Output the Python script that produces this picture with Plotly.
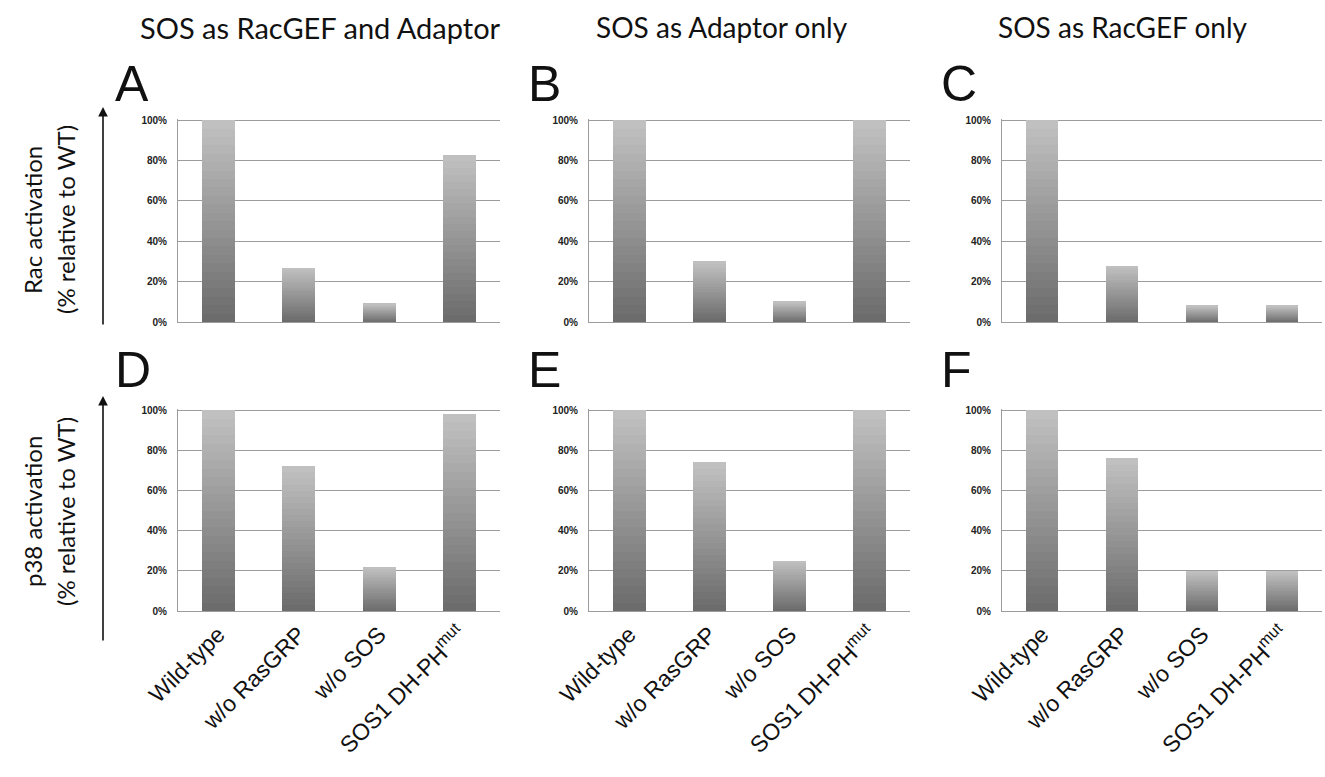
import plotly.graph_objects as go

W, H = 1325, 777

categories = ["Wild-type", "w/o RasGRP", "w/o SOS", "SOS1 DH-PH<sup>mut</sup>"]
rac_both = [100, 27, 9, 83]
rac_adaptor = [100, 30, 10, 100]
rac_gef = [100, 28, 8, 8]
p38_both = [100, 72, 22, 98]
p38_adaptor = [100, 74, 25, 100]
p38_gef = [100, 76, 20, 20]

col_titles = ["SOS as RacGEF and Adaptor", "SOS as Adaptor only", "SOS as RacGEF only"]
row_titles = [["Rac activation", "(% relative to WT)"], ["p38 activation", "(% relative to WT)"]]
panel_letters = ["A", "B", "C", "D", "E", "F"]
y_tick_vals = [0, 20, 40, 60, 80, 100]
y_tick_text = ["0%", "20%", "40%", "60%", "80%", "100%"]

panels = [rac_both, rac_adaptor, rac_gef, p38_both, p38_adaptor, p38_gef]


def px(x):
    return x / W


def py(y):
    return 1 - y / H


col_x = [(178, 500), (589, 910), (1002, 1322)]
row_y = [(119, 322), (409, 611)]

fig = go.Figure()

N = 24
dark, light = 108, 192
for i, vals in enumerate(panels):
    r, c = divmod(i, 3)
    idx = "" if i == 0 else str(i + 1)
    for k in range(N):
        g = int(round(dark + (light - dark) * k / (N - 1)))
        fig.add_trace(go.Bar(
            x=categories,
            y=[v / N for v in vals],
            base=[v * k / N for v in vals],
            marker=dict(color=f"rgb({g},{g},{g})", line=dict(width=0)),
            width=0.41,
            showlegend=False,
            hoverinfo="skip",
            xaxis="x" + idx, yaxis="y" + idx,
        ))
    x0, x1 = col_x[c]
    y0, y1 = row_y[r]
    fig.layout["xaxis" + idx] = dict(
        domain=[px(x0), px(x1)], anchor="y" + idx, automargin=False,
        showline=True, linecolor="#9c9c9c", linewidth=1,
        showgrid=False, ticks="", showticklabels=(r == 1),
        tickangle=-45, tickfont=dict(family="Liberation Sans, Arial", size=23, color="#111"),
        ticklabelstandoff=0,
        range=[-0.5, 3.5], fixedrange=True,
    )
    fig.layout["yaxis" + idx] = dict(
        domain=[py(y1), py(y0)], anchor="x" + idx, automargin=False,
        range=[0, 100.6], tickvals=y_tick_vals, ticktext=y_tick_text,
        showgrid=True, gridcolor="#9c9c9c", gridwidth=1,
        showline=True, linecolor="#9c9c9c", linewidth=1, zeroline=False,
        ticks="", ticklabelstandoff=8,
        tickfont=dict(family="Liberation Sans, Arial", size=10, color="#222", weight="bold"),
        fixedrange=True,
    )

annotations = []
title_cx = [320, 722, 1123]
title_size = [29, 28, 28]
for c, t in enumerate(col_titles):
    annotations.append(dict(
        text=t, x=px(title_cx[c]), y=py(27), xref="paper", yref="paper",
        showarrow=False, xanchor="center", yanchor="middle",
        font=dict(family="Lato, Open Sans", size=title_size[c], color="#111"),
    ))

letter_x = [113, 526, 939]
letter_y = [84, 370]
for i, L in enumerate(panel_letters):
    r, c = divmod(i, 3)
    annotations.append(dict(
        text=L, x=px(letter_x[c]), y=py(letter_y[r]), xref="paper", yref="paper",
        showarrow=False, xanchor="left", yanchor="middle",
        font=dict(family="Liberation Sans, Arial", size=50, color="#111"),
    ))

row_cy = [220, 512]
for r, (t1, t2) in enumerate(row_titles):
    annotations.append(dict(
        text=t1, x=px(32), y=py(row_cy[r]), xref="paper", yref="paper",
        showarrow=False, textangle=-90, xanchor="center", yanchor="middle",
        font=dict(family="Lato, Open Sans", size=24, color="#111"),
    ))
    annotations.append(dict(
        text=t2, x=px(65), y=py(row_cy[r]), xref="paper", yref="paper",
        showarrow=False, textangle=-90, xanchor="center", yanchor="middle",
        font=dict(family="Lato, Open Sans", size=24, color="#111"),
    ))

arrow_span = [(107, 326), (396, 642)]
for r, (ytop, ybot) in enumerate(arrow_span):
    annotations.append(dict(
        text="", x=px(103), y=py(ytop), ax=0, ay=ybot - ytop,
        xref="paper", yref="paper", axref="pixel", ayref="pixel",
        showarrow=True, arrowhead=2, arrowsize=1.2, arrowwidth=1.6, arrowcolor="#111",
    ))

fig.update_layout(
    width=W, height=H,
    margin=dict(l=0, r=0, t=0, b=0),
    paper_bgcolor="white", plot_bgcolor="white",
    barmode="overlay", bargap=0,
    annotations=annotations,
    showlegend=False,
)

fig.write_html(
    "out.html",
    config={"displayModeBar": False},
    post_script="document.body.style.margin='0';document.body.style.overflow='hidden';",
)
